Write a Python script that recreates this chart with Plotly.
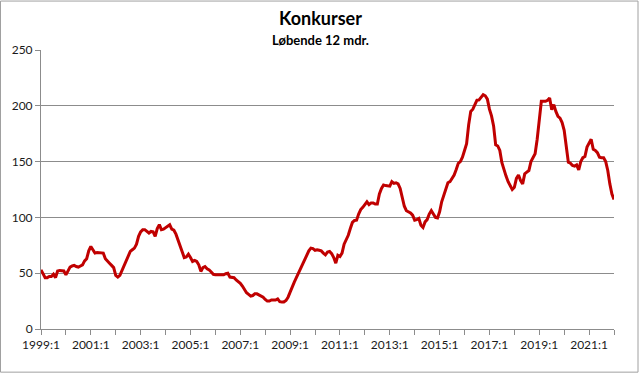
import plotly.graph_objects as go

# Monthly values (rolling 12 months), 1999:1 .. 2022:1
v1999 = [53, 50, 46, 46, 47, 47, 49, 46, 52, 52.5, 52.5, 52]
v2000 = [48.5, 52, 55.5, 56.5, 57, 56, 55.5, 56.5, 57.5, 61, 63, 70]
v2001 = [74, 71, 68, 68.5, 68.5, 68.5, 68, 63, 60.5, 59, 57, 55]
v2002 = [48, 46.5, 48, 52, 56, 60, 65, 69.5, 71, 72.5, 76, 83]
v2003 = [87, 89, 89, 87.5, 86, 87.4, 87, 83, 90, 93.5, 89, 89.5]
v2004 = [91, 92.5, 93.4, 89.5, 88.5, 85, 80, 75, 70, 64, 64.5, 67]
v2005 = [64, 60.5, 61.5, 60.5, 57.5, 51.6, 55, 56, 54, 53, 51, 49]
v2006 = [48.6, 48.6, 48.6, 48.6, 48.6, 49.5, 50, 46.5, 46, 46, 44, 42.6]
v2007 = [41, 38.5, 35, 32.5, 31, 29.5, 30, 31.5, 31.5, 30.5, 29.5, 28.5]
v2008 = [26.5, 25, 25, 26, 26, 26, 27, 24.5, 24.3, 24.3, 25.5, 28.5]
v2009 = [33, 38, 42, 46, 50, 54.6, 58.5, 62, 66, 70, 72.5, 72]
v2010 = [70.5, 71, 70.5, 70, 68, 66.5, 69, 69.5, 67.5, 64, 59, 66]
v2011 = [65, 68, 76, 80, 84, 90, 95.5, 97.3, 97.5, 103, 107, 109]
v2012 = [112, 114, 111.5, 113, 113, 112, 112, 121, 126, 129, 128.5, 128]
v2013 = [128, 132, 130.5, 131, 130, 126, 119, 110, 106, 105, 104, 102]
v2014 = [97.5, 98, 99, 93, 91, 96, 98, 103, 106, 103, 100, 99.5]
v2015 = [105, 114, 120, 126, 131, 132, 135, 138, 143, 148.5, 150, 154]
v2016 = [160, 166, 183, 195, 197, 201, 205, 205.3, 208, 210, 209, 206]
v2017 = [197, 191, 182, 165, 164, 160, 149, 142, 137, 132, 129, 125]
v2018 = [127, 135, 138, 133, 130, 139, 140.5, 142, 150, 154, 157, 170]
v2019 = [190, 204, 204, 204, 205, 207, 196.5, 201, 195, 190.5, 189, 185]
v2020 = [178, 162, 149.5, 148.6, 146.5, 146, 147, 142.6, 150, 153.5, 154.5, 163]
v2021 = [167, 170, 161, 160, 158, 154, 153.5, 153.5, 150, 142, 130, 121]
v2022 = [116]

values = (v1999 + v2000 + v2001 + v2002 + v2003 + v2004 + v2005 + v2006 + v2007
          + v2008 + v2009 + v2010 + v2011 + v2012 + v2013 + v2014 + v2015 + v2016
          + v2017 + v2018 + v2019 + v2020 + v2021 + v2022)

years = list(range(1999, 2023))
months = [f"{y}:{m}" for y in years for m in range(1, 13)][:len(values)]

tick_vals = [f"{y}:1" for y in years]
tick_text = [f"{y}:1" if (y - 1999) % 2 == 0 and y < 2022 else "" for y in years]

FONT = "Lato, Carlito, 'Open Sans', sans-serif"

fig = go.Figure()
fig.add_trace(go.Scatter(
    x=months, y=values, mode="lines",
    line=dict(color="#C00000", width=3), hoverinfo="x+y",
))

grey = "#8C8C8C"
fig.update_layout(
    width=640, height=374,
    margin=dict(l=41, r=26, t=50, b=45, autoexpand=False),
    paper_bgcolor="white", plot_bgcolor="white",
    showlegend=False,
    font=dict(family=FONT, size=12, color="#1a1a1a"),
    xaxis=dict(
        type="category", range=[0, 276],
        tickmode="array", tickvals=tick_vals, ticktext=tick_text,
        ticks="outside", ticklen=5, tickcolor=grey, tickwidth=1,
        showline=True, linecolor=grey, linewidth=1,
        showgrid=False, zeroline=False, automargin=False,
        tickangle=0, tickfont=dict(size=12, family=FONT),
    ),
    yaxis=dict(
        range=[0, 250], tickvals=[0, 50, 100, 150, 200, 250],
        ticks="outside", ticklen=5, tickcolor=grey,
        showline=True, linecolor=grey, linewidth=1,
        showgrid=True, gridcolor=grey, gridwidth=1, automargin=False,
        zeroline=False, tickfont=dict(size=12, family=FONT),
    ),
    annotations=[
        dict(text="<b>Konkurser</b>", xref="paper", yref="paper",
             x=(320 - 41) / 573, y=(329.3 - 18) / 279.3, xanchor="center", yanchor="middle",
             showarrow=False, font=dict(size=18, family=FONT, color="black")),
        dict(text="<b>Løbende 12 mdr.</b>", xref="paper", yref="paper",
             x=(320 - 41) / 573, y=(329.3 - 40) / 279.3, xanchor="center", yanchor="middle",
             showarrow=False, font=dict(size=13, family=FONT, color="black")),
    ],
    shapes=[
        dict(type="rect", xref="paper", yref="paper",
             x0=(0.5 - 41) / 573, x1=(638 - 41) / 573,
             y0=(329.3 - 372.5) / 279.3, y1=(329.3 - 1) / 279.3,
             line=dict(color="#A0A0A0", width=1), fillcolor="rgba(0,0,0,0)", layer="below"),
    ],
)

fig.write_html("out.html", config={"displayModeBar": False},
               post_script="document.body.style.margin='0';")
